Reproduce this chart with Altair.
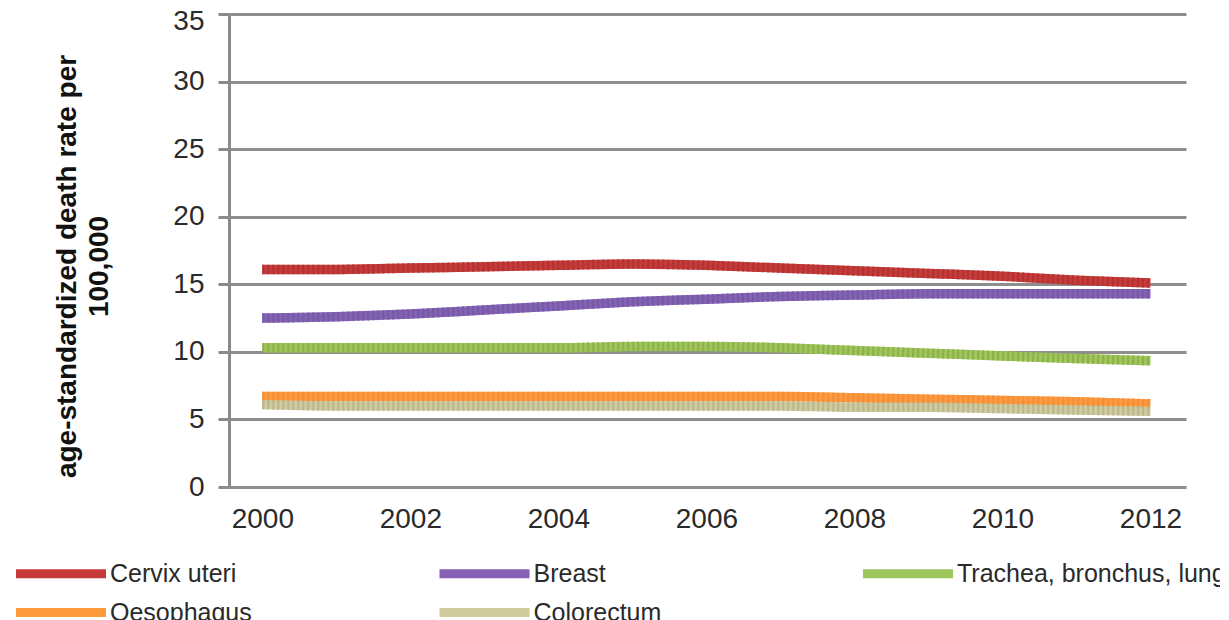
import altair as alt
import pandas as pd

years = list(range(2000, 2013))
series = ["Cervix uteri", "Breast", "Trachea, bronchus, lung", "Oesophagus", "Colorectum"]

cervix = [16.1, 16.1, 16.2, 16.3, 16.4, 16.5, 16.4, 16.2, 16.0, 15.8, 15.6, 15.3, 15.1]
breast = [12.5, 12.6, 12.8, 13.1, 13.4, 13.7, 13.9, 14.1, 14.2, 14.3, 14.3, 14.3, 14.3]
trachea = [10.3, 10.3, 10.3, 10.3, 10.3, 10.4, 10.4, 10.3, 10.1, 9.9, 9.7, 9.5, 9.35]
oesophagus = [6.7, 6.7, 6.7, 6.7, 6.7, 6.7, 6.7, 6.7, 6.6, 6.5, 6.4, 6.3, 6.15]
colorectum = [6.1, 6.0, 6.0, 6.0, 6.0, 6.0, 6.0, 6.0, 5.9, 5.9, 5.8, 5.7, 5.6]

colors = ["#c63b3a", "#8660b4", "#9cc75c", "#ff9a3c", "#cfcb9c"]
darks = ["#b13332", "#715da5", "#92ae49", "#f28d3b", "#bab692"]

tick_years = [2000, 2002, 2004, 2006, 2008, 2010, 2012]
y_ticks = [0, 5, 10, 15, 20, 25, 30, 35]

rows = []
for name, vals, dark in zip(series, [cervix, breast, trachea, oesophagus, colorectum], darks):
    for yr, v in zip(years, vals):
        rows.append({"year": yr, "series": name, "rate": v, "dark": dark})
df = pd.DataFrame(rows)

FONT = "Liberation Sans"

x = alt.X(
    "year:Q",
    scale=alt.Scale(domain=[1999.55, 2012.48], nice=False, zero=False),
    axis=alt.Axis(
        values=tick_years, format="d", title=None, grid=False, ticks=False,
        domain=False, labelFontSize=28, labelPadding=18, labelColor="#2a2a2a",
        labelFont=FONT,
    ),
)
y = alt.Y(
    "rate:Q",
    scale=alt.Scale(domain=[0, 35], nice=False),
    axis=alt.Axis(
        values=y_ticks, title=["age-standardized death rate per", "100,000"],
        titleFont=FONT, titleFontSize=28, titleFontWeight="bold", titleColor="#111",
        titleAngle=270, titleAlign="center", titleBaseline="alphabetic",
        titleX=-154, titleY=252, titleLineHeight=32,
        labelFont=FONT, labelFontSize=28, labelColor="#2a2a2a", labelPadding=14,
        labelOffset=alt.condition("datum.value == 35", alt.value(7), alt.value(0)),
        tickSize=11, tickWidth=3, tickColor="#8a8a8a",
        domainColor="#8a8a8a", domainWidth=3,
        grid=True, gridColor="#8d8d8d", gridWidth=3,
    ),
)

lines = alt.Chart(df).mark_line(strokeWidth=9.5, interpolate="monotone", strokeCap="butt").encode(
    x=x,
    y=y,
    color=alt.Color(
        "series:N",
        scale=alt.Scale(domain=series, range=colors),
        sort=series,
        legend=alt.Legend(
            title=None, orient="none", legendX=11.5 - 229, legendY=540, columns=3,
            direction="horizontal",
            symbolType="M-1,0H5", symbolSize=900, symbolStrokeWidth=9,
            symbolOpacity=1,
            labelFont=FONT, labelFontSize=25, labelColor="#2a2a2a", labelLimit=500,
            labelOffset=59.5, gridAlign="all", columnPadding=41.5,
            rowPadding=1,
        ),
    ),
)

texture = alt.Chart(df).mark_line(
    strokeWidth=9.5, interpolate="monotone", strokeCap="butt", strokeDash=[2, 3]
).encode(
    x=x,
    y=y,
    detail="series:N",
    color=alt.Color("dark:N", scale=None),
)

chart = alt.layer(lines, texture).properties(
    width=957,
    height=473,
    padding={"left": 221, "top": 6, "right": 34, "bottom": 133},
    autosize=alt.AutoSizeParams(type="none"),
).configure_view(stroke=None)

chart.save("out.html", embed_options={"renderer": "svg", "actions": False})
